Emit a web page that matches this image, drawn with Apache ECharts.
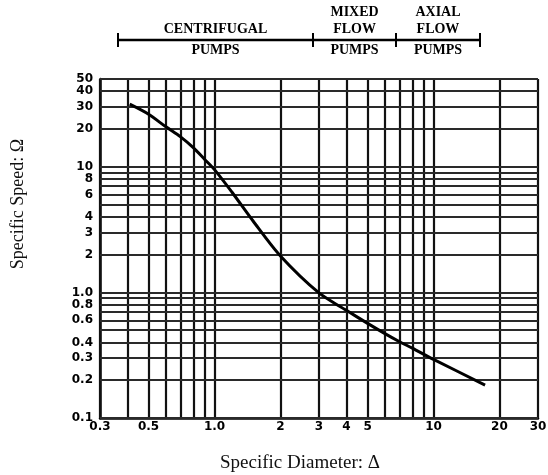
<!DOCTYPE html>
<html lang="en">
<head>
    <meta charset="UTF-8">
    <title>Specific Speed vs Specific Diameter</title>
    <style>
        * { margin: 0; padding: 0; }
        body { background: #fff; }
        #main { width: 548px; height: 475px; }
    </style>
    <script src="https://cdn.jsdelivr.net/npm/echarts@6/dist/echarts.min.js"></script>
</head>
<body>
<div id="main"></div>
<script>
    // curve
    var diameter = [0.41, 0.5, 0.6, 0.7, 0.8, 0.9, 1.0, 1.2, 1.5, 2, 3, 4, 5, 6, 7, 8, 10, 17.2];
    var speed = [31.5, 26.2, 20.8, 17.3, 14.2, 11.5, 9.5, 6.3, 3.7, 1.95, 0.99, 0.72, 0.567, 0.47, 0.405, 0.36, 0.293, 0.183];

    // grid lines and tick labels
    var xGrid = [0.3, 0.4, 0.5, 0.6, 0.7, 0.8, 0.9, 1, 2, 3, 4, 5, 6, 7, 8, 9, 10, 20, 30];
    var xTickValues = [0.3, 0.5, 1, 2, 3, 4, 5, 10, 20, 30];
    var xTickText = ['0.3', '0.5', '1.0', '2', '3', '4', '5', '10', '20', '30'];
    var yGrid = [0.1, 0.2, 0.3, 0.4, 0.5, 0.6, 0.7, 0.8, 0.9, 1, 2, 3, 4, 5, 6, 7, 8, 9, 10, 20, 30, 40, 50];
    var yTickValues = [0.1, 0.2, 0.3, 0.4, 0.6, 0.8, 1, 2, 3, 4, 6, 8, 10, 20, 30, 40, 50];
    var yTickText = ['0.1', '0.2', '0.3', '0.4', '0.6', '0.8', '1.0', '2', '3', '4', '6', '8', '10', '20', '30', '40', '50'];

    // pump type ranges along the diameter axis
    var rangeBounds = [0.362, 2.82, 6.74, 16.3];
    var rangeTop = ['CENTRIFUGAL', 'MIXED\nFLOW', 'AXIAL\nFLOW'];
    var rangeBottom = ['PUMPS', 'PUMPS', 'PUMPS'];

    var tickFont = { fontFamily: 'DejaVu Sans', fontWeight: 'bold', fontSize: 12, color: '#000' };

    var xLines = xGrid.map(function (v) {
        var i = xTickValues.indexOf(v);
        return {
            xAxis: v,
            label: i < 0 ? { show: false } : Object.assign({ show: true, position: 'start', distance: 3, formatter: xTickText[i] }, tickFont)
        };
    });
    var yLines = yGrid.map(function (v) {
        var i = yTickValues.indexOf(v);
        return {
            yAxis: v,
            lineStyle: { color: '#2a2a2a', width: 1.8 },
            label: i < 0 ? { show: false } : Object.assign({ show: true, position: 'start', distance: 7, formatter: yTickText[i] }, tickFont)
        };
    });

    var mids = [];
    for (var k = 0; k < rangeTop.length; k++) {
        mids.push([Math.sqrt(rangeBounds[k] * rangeBounds[k + 1]), 0.5]);
    }
    var capFont = { fontFamily: 'Liberation Serif', fontWeight: 'bold', fontSize: 14, color: '#000', lineHeight: 17 };

    var myChart = echarts.init(document.getElementById('main'));
    var option = {
        backgroundColor: '#fff',
        animation: false,
        grid: [
            { left: 100, right: 10, top: 79, bottom: 57 },
            { left: 100, right: 10, top: 33, height: 14 }
        ],
        xAxis: [
            {
                type: 'log', logBase: 10, min: 0.3, max: 30,
                axisLine: { lineStyle: { color: '#000', width: 2.5 } },
                axisTick: { show: false },
                axisLabel: { show: false },
                splitLine: { show: false }
            },
            { type: 'log', gridIndex: 1, min: 0.3, max: 30, show: false }
        ],
        yAxis: [
            {
                type: 'log', logBase: 10, min: 0.1, max: 50,
                axisLine: { show: true, lineStyle: { color: '#000', width: 2.5 } },
                axisTick: { show: false },
                axisLabel: { show: false },
                splitLine: { show: false }
            },
            { type: 'value', gridIndex: 1, min: 0, max: 1, show: false }
        ],
        graphic: [
            {
                type: 'text', x: 300, y: 463,
                style: { text: 'Specific Diameter: \u0394', font: '19px "Liberation Serif"', fill: '#111', textAlign: 'center', textVerticalAlign: 'middle' }
            },
            {
                type: 'text', x: 18, y: 204, rotation: Math.PI / 2,
                style: { text: 'Specific Speed: \u03A9', font: '18px "Liberation Serif"', fill: '#111', textAlign: 'center', textVerticalAlign: 'middle' }
            }
        ],
        series: [
            {
                name: 'grid',
                type: 'line',
                data: [],
                markLine: {
                    silent: true,
                    symbol: 'none',
                    animation: false,
                    lineStyle: { type: 'solid', color: '#111', width: 2.2 },
                    data: xLines.concat(yLines)
                }
            },
            {
                name: 'curve',
                type: 'line',
                data: diameter.map(function (d, i) { return [d, speed[i]]; }),
                smooth: 0.3,
                symbol: 'none',
                lineStyle: { color: '#000', width: 3 },
                z: 5
            },
            {
                name: 'ranges',
                type: 'line',
                xAxisIndex: 1, yAxisIndex: 1,
                data: rangeBounds.map(function (b) { return [b, 0.5]; }),
                symbol: 'none',
                lineStyle: { color: '#000', width: 2.5 },
                markLine: {
                    silent: true,
                    symbol: 'none',
                    label: { show: false },
                    lineStyle: { type: 'solid', color: '#000', width: 2 },
                    data: rangeBounds.map(function (b) { return { xAxis: b }; })
                }
            },
            {
                name: 'rangeTop',
                type: 'scatter',
                xAxisIndex: 1, yAxisIndex: 1,
                symbolSize: 0,
                itemStyle: { opacity: 1 },
                data: mids,
                label: Object.assign({
                    show: true, position: 'top', distance: 2,
                    formatter: function (p) { return rangeTop[p.dataIndex]; }
                }, capFont)
            },
            {
                name: 'rangeBottom',
                type: 'scatter',
                xAxisIndex: 1, yAxisIndex: 1,
                symbolSize: 0,
                itemStyle: { opacity: 1 },
                data: mids,
                label: Object.assign({
                    show: true, position: 'bottom', distance: 2,
                    formatter: function (p) { return rangeBottom[p.dataIndex]; }
                }, capFont)
            }
        ]
    };
    myChart.setOption(option);
</script>
</body>
</html>
